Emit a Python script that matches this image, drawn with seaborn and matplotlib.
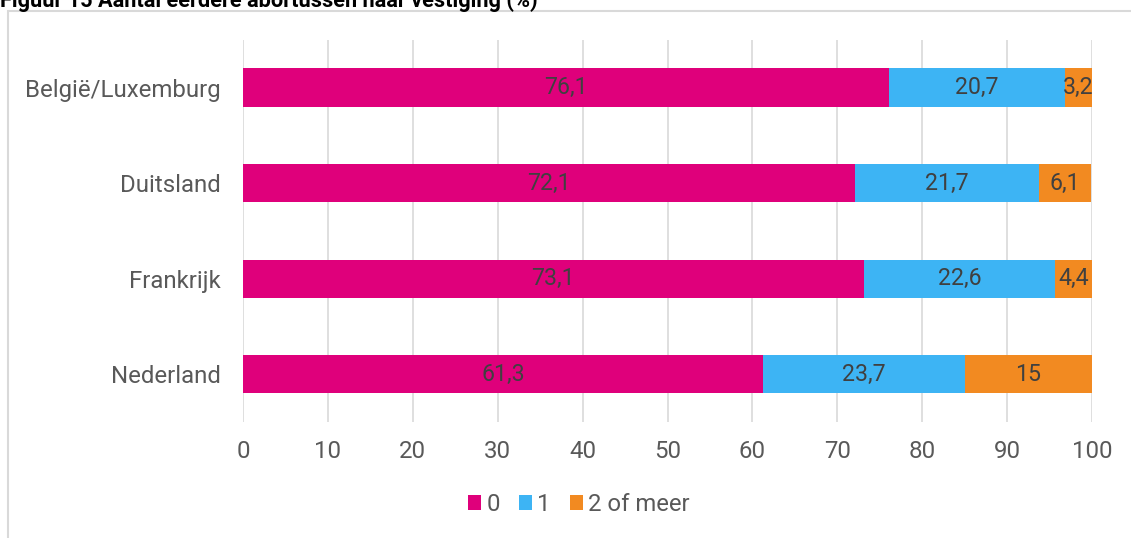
import matplotlib
matplotlib.use("Agg")
import matplotlib.pyplot as plt
import seaborn as sns
import pandas as pd
import numpy as np
from matplotlib.patches import Rectangle, Patch

landen = ["België/Luxemburg", "Duitsland", "Frankrijk", "Nederland"]
serie_namen = ["0", "1", "2 of meer"]
waarden_0 = [76.1, 72.1, 73.1, 61.3]
waarden_1 = [20.7, 21.7, 22.6, 23.7]
waarden_2 = [3.2, 6.1, 4.4, 15]
labels_0 = ["76,1", "72,1", "73,1", "61,3"]
labels_1 = ["20,7", "21,7", "22,6", "23,7"]
labels_2 = ["3,2", "6,1", "4,4", "15"]
x_ticks = [0, 10, 20, 30, 40, 50, 60, 70, 80, 90, 100]
titel = "Figuur 15 Aantal eerdere abortussen naar vestiging (%)"

kleuren = ["#DF007B", "#3DB4F4", "#F28A21"]

sns.set_theme(style="white")
plt.rcParams['font.family'] = ['Roboto', 'DejaVu Sans']

fig = plt.figure(figsize=(11.31, 5.38), dpi=100)
ax = fig.add_axes([0.2149, 0.2154, 0.9655 - 0.2149, 0.9262 - 0.2154])

series = [waarden_0, waarden_1, waarden_2]
cum = np.cumsum(np.array(series), axis=0)
df = pd.DataFrame({"land": landen})
for i in range(3):
    df[f"cum{i}"] = cum[i]

# draw widest first so narrower stacked layers sit on top
for i in reversed(range(3)):
    sns.barplot(data=df, y="land", x=f"cum{i}", color=kleuren[i], width=0.4,
                orient="h", ax=ax, saturation=1, zorder=3, edgecolor="none")

labels = [labels_0, labels_1, labels_2]
for i in range(3):
    starts = cum[i] - np.array(series[i])
    for j in range(len(landen)):
        ax.text(starts[j] + series[i][j] / 2, j, labels[i][j], ha="center", va="center",
                fontsize=16.7, color="#404040", zorder=5)

ax.set_xlim(0, 100)
ax.set_ylim(3.5, -0.5)
ax.set_xticks(x_ticks)
ax.set_xticklabels([str(t) for t in x_ticks])
ax.set_xlabel("")
ax.set_ylabel("")
ax.xaxis.grid(True, color="#D9D9D9", linewidth=1.2, zorder=0)
ax.yaxis.grid(False)
ax.set_axisbelow(True)
for s in ax.spines.values():
    s.set_visible(False)
ax.tick_params(axis="both", length=0, labelsize=17.3, labelcolor="#595959")
ax.tick_params(axis="y", pad=16)
ax.tick_params(axis="x", pad=13)

handles = [Patch(facecolor=kleuren[i], edgecolor="none", label=serie_namen[i]) for i in range(3)]
fig.legend(handles=handles, loc="center", bbox_to_anchor=(0.512, 0.062), ncol=3, frameon=False,
           fontsize=17.2, handlelength=0.55, handleheight=0.55, handletextpad=0.22,
           columnspacing=0.8, labelcolor="#595959")

# outer chart border
fig.patches.append(Rectangle((7.5 / 1131, -0.1), 1.2, 1 - 11 / 538 + 0.1, transform=fig.transFigure,
                             fill=False, edgecolor="#D9D9D9", linewidth=1.5, zorder=0))

fig.text(0.0, 1 - 7 / 538, titel, ha="left", va="baseline", fontsize=15.7, fontweight="bold",
         color="#000000")

fig.savefig("out.png", dpi=100)
